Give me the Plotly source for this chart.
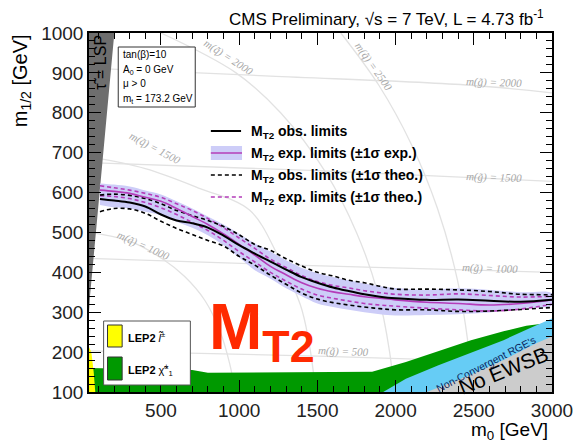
import plotly.graph_objects as go

# ---------------- data ----------------
m0 = [110, 200, 300, 400, 500, 600, 700, 800, 900, 1000, 1100, 1200, 1300, 1400,
      1500, 1600, 1700, 1800, 1900, 2000, 2200, 2400, 2600, 2800, 3000]
obs = [584, 580, 575, 565, 545, 530, 523, 512, 492, 468, 447, 427, 407, 388,
       374, 362, 353, 345, 339, 335, 331, 332, 329, 326, 331]
obs_theo_up = [594, 596, 593, 585, 572, 555, 542, 530, 515, 494, 470, 455, 434, 416,
               400, 391, 380, 374, 365, 358, 358, 356, 352, 345, 344]
obs_theo_dn = [552, 560, 559, 548, 528, 510, 495, 480, 466, 440, 418, 393, 370, 348,
               333, 324, 318, 313, 309, 306, 306, 302, 303, 307, 312]
exp = [606, 603, 598, 588, 578, 560, 540, 520, 496, 470, 443, 415, 394, 374,
       360, 351, 345, 339, 335, 331, 325, 322, 318, 322, 331]
exp_up = [623, 620, 615, 605, 595, 578, 560, 540, 520, 497, 472, 452, 430, 411,
          398, 388, 380, 372, 365, 361, 356, 360, 356, 350, 347]
exp_dn = [569, 563, 560, 552, 543, 527, 512, 493, 468, 437, 405, 384, 360, 340,
          322, 313, 306, 300, 295, 292, 293, 295, 299, 310, 318]
exp_theo_up = [617, 612, 606, 598, 588, 572, 555, 535, 512, 486, 460, 433, 412, 392,
               377, 367, 361, 354, 349, 345, 343, 346, 342, 338, 340]
exp_theo_dn = [592, 590, 585, 575, 562, 545, 525, 505, 480, 452, 426, 400, 378, 358,
               343, 335, 328, 322, 318, 315, 310, 306, 303, 308, 320]

# excluded / theory regions
tau_m0 = [40, 46, 121, 202, 40]
tau_m12 = [300, 339, 656, 1000, 1000]
lep_sl_m0 = [40, 80, 70, 55, 40]
lep_sl_m12 = [100, 100, 150, 200, 212]
lep_ch_m0 = [40, 700, 800, 1850, 2066, 2274, 2482, 2690, 2836, 3000, 3000, 40]
lep_ch_m12 = [160, 155, 148, 151, 175, 203, 230, 252, 266, 274, 100, 100]
rge_m0 = [1921, 2066, 2274, 2482, 2690, 2857, 3000, 3000]
rge_m12 = [100, 133, 167, 198, 230, 260, 284, 100]
ewsb_m0 = [2200, 2232, 2482, 2690, 2899, 3000, 3000]
ewsb_m12 = [100, 105, 143, 180, 222, 239, 100]

# iso-mass contours
sq_lines = {
    "1000": ([40, 300, 520, 650, 780, 880, 940, 975], [500, 478, 431, 390, 330, 250, 170, 100]),
    "1500": ([40, 400, 750, 1066, 1250, 1390, 1444, 1490], [690, 660, 610, 556, 440, 320, 230, 100]),
    "2000": ([500, 980, 1265, 1554, 1750, 1885, 1962, 1990], [1000, 900, 800, 650, 500, 350, 200, 100]),
    "2500": ([1650, 1893, 2102, 2268, 2396, 2464, 2493], [1000, 869, 720, 560, 380, 220, 100]),
}
gl_lines = {
    "500": ([40, 1500, 2500, 3000], [203, 190, 178, 172]),
    "1000": ([40, 1350, 3000], [435, 418, 400]),
    "1500": ([40, 1500, 3000], [675, 655, 628]),
    "2000": ([40, 1200, 2480, 3000], [912, 892, 869, 850]),
}

xticks = [500, 1000, 1500, 2000, 2500, 3000]
yticks = [100, 200, 300, 400, 500, 600, 700, 800, 900, 1000]

# ---------------- layout helpers (pixel -> paper) ----------------
W, H = 585, 442
L, R, T, B = 89, 21, 33, 50
PW, PH = W - L - R, H - T - B


def px(x):
    return (x - L) / PW


def py(y):
    return (H - B - y) / PH


SANS = "Liberation Sans"
SERIF = "Liberation Serif"
MAG = "rgb(180,60,185)"
BAND = "rgb(205,205,248)"

fig = go.Figure()

# iso lines
for k, (xs, ys) in list(sq_lines.items()) + list(gl_lines.items()):
    fig.add_trace(go.Scatter(x=xs, y=ys, mode="lines", line=dict(color="#e2e2e2", width=1.3, shape="spline"),
                             hoverinfo="skip", showlegend=False))

# regions
fig.add_trace(go.Scatter(x=lep_ch_m0, y=lep_ch_m12, fill="toself", fillcolor="#009900", mode="lines",
                         line=dict(width=0, color="#009900"), showlegend=False))
fig.add_trace(go.Scatter(x=rge_m0, y=rge_m12, fill="toself", fillcolor="#66ccf5", mode="lines",
                         line=dict(width=0, color="#66ccf5"), showlegend=False))
fig.add_trace(go.Scatter(x=ewsb_m0, y=ewsb_m12, fill="toself", fillcolor="#cccccc", mode="lines",
                         line=dict(width=0, color="#cccccc"), showlegend=False))
fig.add_trace(go.Scatter(x=lep_sl_m0, y=lep_sl_m12, fill="toself", fillcolor="#ffff00", mode="lines",
                         line=dict(width=0, color="#ffff00"), showlegend=False))
fig.add_trace(go.Scatter(x=tau_m0, y=tau_m12, fill="toself", fillcolor="#6e6e6e", mode="lines",
                         line=dict(width=0, color="#6e6e6e"), showlegend=False))

# expected band
fig.add_trace(go.Scatter(x=m0 + m0[::-1], y=exp_up + exp_dn[::-1], fill="toself", fillcolor=BAND,
                         mode="lines", line=dict(width=0, color=BAND, shape="spline"), showlegend=False))
for ys in (exp_theo_up, exp_theo_dn):
    fig.add_trace(go.Scatter(x=m0, y=ys, mode="lines", showlegend=False,
                             line=dict(color=MAG, width=1.6, dash="4px,3px", shape="spline")))
for ys in (obs_theo_up, obs_theo_dn):
    fig.add_trace(go.Scatter(x=m0, y=ys, mode="lines", showlegend=False,
                             line=dict(color="black", width=1.6, dash="4px,3px", shape="spline")))
fig.add_trace(go.Scatter(x=m0, y=exp, mode="lines", showlegend=False,
                         line=dict(color=MAG, width=1.6, shape="spline")))
fig.add_trace(go.Scatter(x=m0, y=obs, mode="lines", showlegend=False,
                         line=dict(color="black", width=2, shape="spline")))

shapes = []
ann = []


def text(x, y, s, size, color="black", family=SANS, angle=0, xanchor="center", yanchor="middle"):
    ann.append(dict(x=px(x), y=py(y), xref="paper", yref="paper", text=s, showarrow=False,
                    font=dict(size=size, color=color, family=family), textangle=angle,
                    xanchor=xanchor, yanchor=yanchor))


# main legend
legend_rows = [(131, "obs. limits"), (153, "exp. limits (±1σ exp.)"),
               (175, "obs. limits (±1σ theo.)"), (197, "exp. limits (±1σ theo.)")]
shapes.append(dict(type="line", xref="paper", yref="paper", x0=px(214), x1=px(245), y0=py(131), y1=py(131),
                   line=dict(color="black", width=2)))
shapes.append(dict(type="rect", xref="paper", yref="paper", x0=px(214), x1=px(246), y0=py(146), y1=py(160),
                   fillcolor=BAND, line=dict(width=0)))
shapes.append(dict(type="line", xref="paper", yref="paper", x0=px(214), x1=px(246), y0=py(153), y1=py(153),
                   line=dict(color=MAG, width=1.6)))
shapes.append(dict(type="line", xref="paper", yref="paper", x0=px(214), x1=px(246), y0=py(175), y1=py(175),
                   line=dict(color="black", width=1.6, dash="4px,3px")))
shapes.append(dict(type="line", xref="paper", yref="paper", x0=px(214), x1=px(246), y0=py(197), y1=py(197),
                   line=dict(color=MAG, width=1.6, dash="4px,3px")))
for y, lab in legend_rows:
    text(253, y + 1, "<b>M<sub>T2</sub> " + lab + "</b>", 14, xanchor="left")

# tan beta box
shapes.append(dict(type="rect", xref="paper", yref="paper", x0=px(119), x1=px(198), y0=py(47), y1=py(107),
                   fillcolor="white", line=dict(color="#333", width=1)))
for y, s in [(55, "tan(β)=10"), (70, "A<sub>0</sub> = 0 GeV"), (84, "μ > 0"), (99, "m<sub>t</sub> = 173.2 GeV")]:
    text(122, y, s, 10, xanchor="left")

# LEP2 box
shapes.append(dict(type="rect", xref="paper", yref="paper", x0=px(104), x1=px(193), y0=py(321), y1=py(385),
                   fillcolor="white", line=dict(color="#555", width=1)))
shapes.append(dict(type="rect", xref="paper", yref="paper", x0=px(108), x1=px(123), y0=py(325), y1=py(347),
                   fillcolor="#ffff00", line=dict(color="#333", width=1)))
shapes.append(dict(type="rect", xref="paper", yref="paper", x0=px(108), x1=px(123), y0=py(357), y1=py(380),
                   fillcolor="#009900", line=dict(color="#333", width=1)))
text(127, 337, "<b>LEP2</b> <i>l\u0303</i><sup>±</sup>", 11, xanchor="left")
text(127, 370, "<b>LEP2</b> χ\u0303<sup>±</sup><sub>1</sub>", 11, xanchor="left")

# region labels
text(100, 62, "τ\u0303 = LSP", 16, angle=-90)
text(514, 370, "No EWSB", 21, angle=-22)
text(496, 364, "Non-Convergent RGE's", 10.5, color="#0a1f5c", angle=-27)

# iso line labels
iso_col = "#a8a8a8"
text(232, 58, "<i>m(q\u0303) = 2000</i>", 11, iso_col, SERIF, angle=33)
text(381, 66, "<i>m(q\u0303) = 2500</i>", 11, iso_col, SERIF, angle=55)
text(157, 148, "<i>m(q\u0303) = 1500</i>", 11, iso_col, SERIF, angle=28)
text(144, 246, "<i>m(q\u0303) = 1000</i>", 11, iso_col, SERIF, angle=24)
text(505, 82, "<i>m(g\u0303) = 2000</i>", 11, iso_col, SERIF, angle=2)
text(505, 177, "<i>m(g\u0303) = 1500</i>", 11, iso_col, SERIF, angle=2)
text(500, 268, "<i>m(g\u0303) = 1000</i>", 11, iso_col, SERIF, angle=2)
text(350, 351, "<i>m(g\u0303) = 500</i>", 11, iso_col, SERIF, angle=2)

# big MT2
text(210, 373, "<b>M<sub>T2</sub></b>", 64, color="#ff2a00", xanchor="left", yanchor="bottom")

# title & axis titles
text(558, 18, "CMS Preliminary, √s = 7 TeV, L = 4.73 fb<sup>-1</sup>", 17, xanchor="right")
text(562, 431, "m<sub>0</sub> [GeV]", 19, xanchor="right")
ann.append(dict(x=px(20), y=py(32), xref="paper", yref="paper", text="m<sub>1/2</sub> [GeV]", showarrow=False,
                font=dict(size=20, family=SANS, color="black"), textangle=-90, xanchor="center", yanchor="top"))

fig.update_layout(
    width=W, height=H, margin=dict(l=L, r=R, t=T, b=B),
    paper_bgcolor="white", plot_bgcolor="white", showlegend=False,
    shapes=shapes, annotations=ann,
    font=dict(family=SANS, color="black"),
    xaxis=dict(range=[40, 3000], tickvals=xticks, ticks="inside", ticklen=12, tickwidth=1.3, tickcolor="black",
               mirror="allticks", showline=True, linecolor="black", linewidth=1.5, showgrid=False, zeroline=False,
               tickfont=dict(size=19, family=SANS, color="#222"), ticklabeloverflow="allow",
               minor=dict(dtick=100, tick0=0, ticks="inside", ticklen=6, tickcolor="black", showgrid=False)),
    yaxis=dict(range=[100, 1000], tickvals=yticks, ticks="inside", ticklen=12, tickwidth=1.3, tickcolor="black",
               mirror="allticks", showline=True, linecolor="black", linewidth=1.5, showgrid=False, zeroline=False,
               tickfont=dict(size=19, family=SANS, color="#222"), ticklabeloverflow="allow",
               minor=dict(dtick=20, tick0=0, ticks="inside", ticklen=6, tickcolor="black", showgrid=False)),
)

fig.write_html("out.html")
